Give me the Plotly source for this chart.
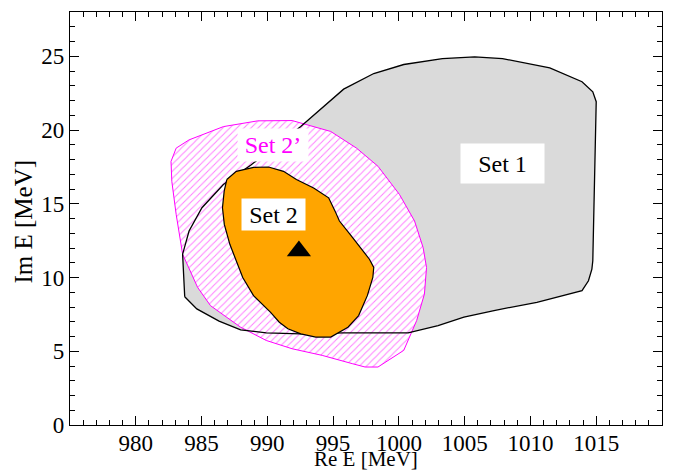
import plotly.graph_objects as go

# Set 1 contour (grey region)
set1_x = [983.72, 983.56, 984.05, 985.03, 986.66, 988.78, 992.54, 993.84, 995.80, 998.09,
          1000.37, 1003.31, 1005.76, 1007.88, 1011.47, 1013.92, 1014.74, 1015.00, 1014.90,
          1014.74, 1014.67, 1014.41, 1013.92, 1010.49, 1007.23, 1004.94, 1002.98, 1000.70,
          995.80, 992.54, 989.92, 987.97, 986.33, 984.64, 983.72]
set1_y = [8.70, 11.58, 13.15, 14.73, 16.30, 17.65, 20.23, 21.25, 22.77, 23.83,
          24.44, 24.84, 24.96, 24.84, 24.21, 23.27, 22.59, 21.92, 17.42,
          11.13, 10.57, 9.78, 9.11, 8.32, 7.76, 7.31, 6.74, 6.25,
          6.25, 6.18, 6.25, 6.45, 7.04, 7.87, 8.70]

# Set 2' contour (hatched magenta region)
set2p_x = [982.68, 983.07, 984.05, 986.66, 989.27, 991.88, 994.82, 996.78, 998.41, 1000.05,
           1001.19, 1001.84, 1002.10, 1001.94, 1001.35, 1000.37, 998.41, 997.43, 996.45,
           994.17, 991.88, 989.92, 987.97, 985.68, 984.70, 983.56, 983.07, 982.74, 982.68]
set2p_y = [17.87, 18.77, 19.33, 20.23, 20.62, 20.64, 19.90, 18.77, 17.54, 15.62,
           13.83, 12.03, 10.68, 8.88, 7.08, 5.06, 3.93, 3.93, 4.16,
           4.72, 5.17, 5.73, 6.63, 8.09, 9.33, 11.58, 14.28, 16.52, 17.87]

# Set 2 contour (orange region)
set2_x = [986.92, 987.64, 988.95, 990.09, 991.23, 992.21, 993.52, 994.66, 995.15, 995.48,
          996.29, 997.11, 997.76, 998.09, 998.02, 997.60, 996.94, 996.13, 995.48, 994.82,
          993.68, 992.54, 991.56, 990.91, 990.25, 988.95, 988.13, 987.64, 987.15, 986.73,
          986.59, 986.72, 986.92]
set2_y = [16.64, 17.20, 17.47, 17.49, 17.20, 16.64, 16.07, 15.40, 14.50, 13.83,
          12.93, 12.03, 11.24, 10.68, 10.00, 8.77, 7.42, 6.63, 6.29, 5.96,
          5.96, 6.18, 6.52, 6.97, 7.64, 8.77, 10.00, 11.13, 12.25, 13.60,
          14.73, 15.85, 16.64]

# Central pole
pole_x = [992.4]
pole_y = [11.8]

x_ticks = [980, 985, 990, 995, 1000, 1005, 1010, 1015]
y_ticks = [0, 5, 10, 15, 20, 25]

FONT = "Liberation Serif"
PAGE_OFFSET = 8  # default body margin of the html page

fig = go.Figure()
fig.add_trace(go.Scatter(x=set1_x, y=set1_y, mode="lines", fill="toself",
                         fillcolor="#dadada", line=dict(width=0, color="rgba(0,0,0,0)"),
                         hoverinfo="skip", showlegend=False))
fig.add_trace(go.Scatter(x=set2p_x, y=set2p_y, mode="lines", fill="toself",
                         fillcolor="white",
                         fillpattern=dict(shape="/", fgcolor="#ff00ff", bgcolor="white",
                                          size=5, solidity=0.2),
                         line=dict(width=1, color="#ff00ff"),
                         hoverinfo="skip", showlegend=False))
fig.add_trace(go.Scatter(x=set1_x, y=set1_y, mode="lines",
                         line=dict(width=1.3, color="black"),
                         hoverinfo="skip", showlegend=False))
fig.add_trace(go.Scatter(x=set2_x, y=set2_y, mode="lines", fill="toself",
                         fillcolor="#ffa500", line=dict(width=1.2, color="black"),
                         hoverinfo="skip", showlegend=False))
fig.add_trace(go.Scatter(x=pole_x, y=pole_y, mode="markers",
                         marker=dict(symbol="triangle-up", size=21, color="black"),
                         hoverinfo="skip", showlegend=False))

fig.add_annotation(x=1007.9, y=17.76, text="Set 1", showarrow=False,
                   font=dict(family=FONT, size=24, color="black"),
                   bgcolor="white", borderpad=0, width=83, height=39)
fig.add_annotation(x=990.5, y=14.3, text="Set 2", showarrow=False,
                   font=dict(family=FONT, size=24, color="black"),
                   bgcolor="white", borderpad=0, width=63, height=31)
fig.add_annotation(x=990.4, y=18.95, text="Set 2\u2019", showarrow=False,
                   font=dict(family=FONT, size=24, color="#ff00ff"),
                   bgcolor="white", borderpad=0, width=70, height=32)

# axis titles
fig.add_annotation(xref="paper", yref="paper", x=0.5, y=0, xanchor="center", yanchor="bottom",
                   yshift=-47, text="Re E [MeV]", showarrow=False, borderpad=0,
                   font=dict(family=FONT, size=21, color="black"))
fig.add_annotation(xref="paper", yref="paper", x=0, y=0.5, xanchor="center", yanchor="middle",
                   xshift=-47, yshift=-3, textangle=-90, text="Im E [MeV]", showarrow=False,
                   borderpad=0, font=dict(family=FONT, size=25, color="black"))

axis_common = dict(showline=True, linecolor="black", linewidth=1.2, mirror="ticks",
                   ticks="inside", ticklen=9, tickwidth=1.2, tickcolor="black",
                   showgrid=False, zeroline=False, automargin=False,
                   tickfont=dict(family=FONT, size=23, color="black"))

fig.update_xaxes(range=[975, 1020], tickvals=x_ticks, ticktext=[str(v) for v in x_ticks],
                 ticklabelstandoff=-3,
                 minor=dict(dtick=1, tick0=975, ticks="inside", ticklen=5, tickcolor="black",
                            tickwidth=1),
                 **axis_common)
fig.update_yaxes(range=[0, 28], tickvals=y_ticks, ticktext=[str(v) for v in y_ticks],
                 minor=dict(dtick=1, tick0=0, ticks="inside", ticklen=5, tickcolor="black",
                            tickwidth=1),
                 **axis_common)

fig.update_layout(width=673 - PAGE_OFFSET, height=472 - PAGE_OFFSET,
                  margin=dict(l=70 - PAGE_OFFSET, r=11, t=12 - PAGE_OFFSET, b=47),
                  plot_bgcolor="white", paper_bgcolor="white", showlegend=False)

fig.write_html("out.html")
